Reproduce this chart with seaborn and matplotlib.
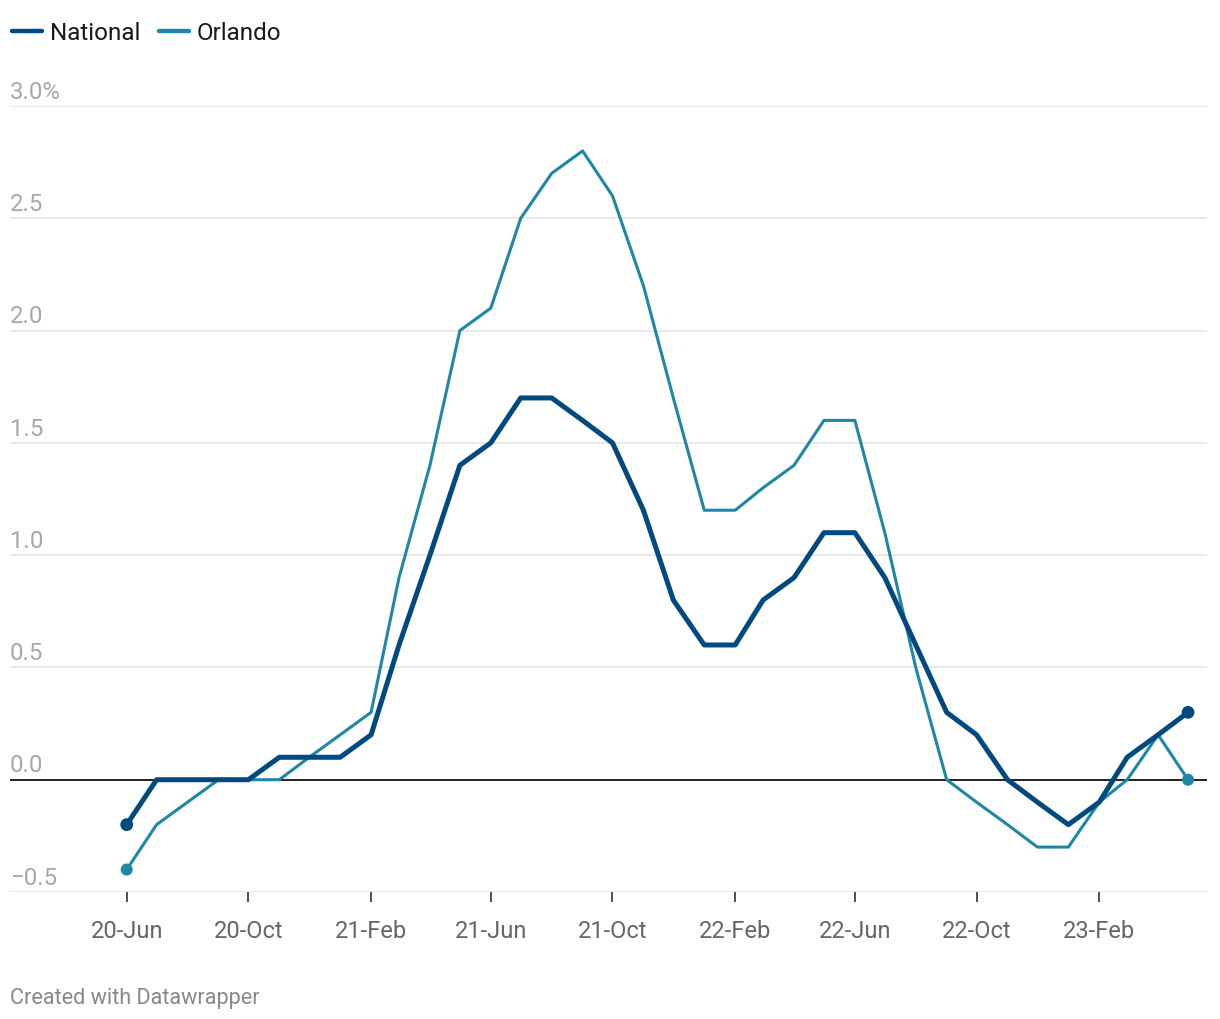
import pandas as pd
import matplotlib.pyplot as plt
import seaborn as sns

# monthly change, Jun 2020 - May 2023
months = pd.date_range('2020-06-01', '2023-05-01', freq='MS')
national = [-0.2, 0.0, 0.0, 0.0, 0.0, 0.1, 0.1, 0.1, 0.2, 0.6, 1.0, 1.4,
            1.5, 1.7, 1.7, 1.6, 1.5, 1.2, 0.8, 0.6, 0.6, 0.8, 0.9, 1.1,
            1.1, 0.9, 0.6, 0.3, 0.2, 0.0, -0.1, -0.2, -0.1, 0.1, 0.2, 0.3]
orlando = [-0.4, -0.2, -0.1, 0.0, 0.0, 0.0, 0.1, 0.2, 0.3, 0.9, 1.4, 2.0,
           2.1, 2.5, 2.7, 2.8, 2.6, 2.2, 1.7, 1.2, 1.2, 1.3, 1.4, 1.6,
           1.6, 1.1, 0.5, 0.0, -0.1, -0.2, -0.3, -0.3, -0.1, 0.0, 0.2, 0.0]
y_ticks = [-0.5, 0.0, 0.5, 1.0, 1.5, 2.0, 2.5, 3.0]
y_labels = ['\u22120.5', '0.0', '0.5', '1.0', '1.5', '2.0', '2.5', '3.0%']
x_ticks = pd.to_datetime(['2020-06-01', '2020-10-01', '2021-02-01', '2021-06-01',
                          '2021-10-01', '2022-02-01', '2022-06-01', '2022-10-01',
                          '2023-02-01'])
x_labels = ['20-Jun', '20-Oct', '21-Feb', '21-Jun', '21-Oct', '22-Feb',
            '22-Jun', '22-Oct', '23-Feb']

c_nat = '#004a7f'
c_orl = '#1f87a6'

df = pd.DataFrame({'month': list(months) * 2,
                   'value': national + orlando,
                   'series': ['National'] * len(months) + ['Orlando'] * len(months)})
ends = df[df['month'].isin([months[0], months[-1]])]

sns.set_style('white')
plt.rcParams['font.family'] = ['Roboto', 'DejaVu Sans']

fig = plt.figure(figsize=(12.2, 10.2), dpi=100)
ax = fig.add_axes([10 / 1220, 1 - 893 / 1020, 1197 / 1220, 786 / 1020])

for y in y_ticks:
    ax.axhline(y, color='#e3e3e3', lw=1.1, zorder=0)
ax.axhline(0, color='#111111', lw=1.3, zorder=1)

sns.lineplot(data=df[df.series == 'Orlando'], x='month', y='value', color=c_orl,
             lw=2.2, ax=ax, label='Orlando', zorder=3)
sns.lineplot(data=df[df.series == 'National'], x='month', y='value', color=c_nat,
             lw=3.6, ax=ax, label='National', zorder=4)
sns.scatterplot(data=ends[ends.series == 'Orlando'], x='month', y='value', color=c_orl,
                s=75, edgecolor='none', ax=ax, zorder=3, legend=False)
sns.scatterplot(data=ends[ends.series == 'National'], x='month', y='value', color=c_nat,
                s=85, edgecolor='none', ax=ax, zorder=4, legend=False)

ax.set_xlim(pd.Timestamp('2020-02-05'), pd.Timestamp('2023-05-20'))
ax.set_ylim(-0.5, 3.0)
ax.set_xlabel('')
ax.set_ylabel('')
for s in ax.spines.values():
    s.set_visible(False)

ax.set_xticks(x_ticks)
ax.set_xticklabels(x_labels)
ax.tick_params(axis='x', length=7.5, width=1.1, color='#222222', pad=12,
               labelsize=17, labelcolor='#666666', bottom=True)
ax.set_yticks([])
for y, lab in zip(y_ticks, y_labels):
    ax.annotate(lab, xy=(0, y), xycoords=ax.get_yaxis_transform(),
                xytext=(0, 6), textcoords='offset points', ha='left',
                va='baseline', fontsize=17.3, color='#a8a8a8')

handles, labels = ax.get_legend_handles_labels()
order = [labels.index('National'), labels.index('Orlando')]
leg = ax.legend([handles[i] for i in order], [labels[i] for i in order],
                loc='center left', bbox_to_anchor=(12 / 1220, 1 - 34 / 1020),
                bbox_transform=fig.transFigure, ncol=2, frameon=False,
                fontsize=17.5, handlelength=1.22, handletextpad=0.33,
                columnspacing=0.78, borderaxespad=0, borderpad=0)
for ln in leg.get_lines():
    ln.set_linewidth(3.2)
    ln.set_solid_capstyle('round')
for t in leg.get_texts():
    t.set_color('#1a1a1a')

fig.text(10 / 1220, 1 - 999 / 1020, 'Created with Datawrapper', fontsize=15.6,
         color='#888888', ha='left', va='center')

fig.savefig('out.png', dpi=100)
